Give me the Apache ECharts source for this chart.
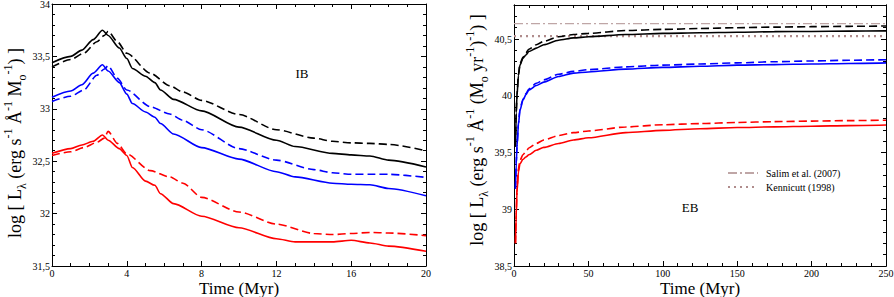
<!DOCTYPE html>
<html><head><meta charset="utf-8">
<script src="https://cdn.jsdelivr.net/npm/echarts@6/dist/echarts.min.js"></script>
<style>html,body{margin:0;padding:0;background:#fff}#c{width:894px;height:297px}</style>
</head><body><div id="c"></div>
<script>
// ---------- Left panel (IB) data ----------
const ibSolidTime  = [0, 1, 1.6, 2.2, 2.7, 3.0, 3.6, 4.0, 4.3, 5.0, 5.5, 5.8, 6.5, 8, 10, 12, 13, 15, 16, 17, 18, 20];
const ibDashedTime = [0, 1, 1.7, 2.4, 2.8, 3.0, 3.5, 4.0, 5.25, 6.3, 7, 8, 10, 12, 14, 15, 16, 17, 18, 20];
const ibBlackSolid = [33.44, 33.50, 33.56, 33.66, 33.75, 33.70, 33.58, 33.48, 33.385, 33.31, 33.25, 33.18, 33.09, 32.98, 32.825, 32.70, 32.64, 32.575, 32.56, 32.55, 32.51, 32.445];
const ibBlackDashed = [33.40, 33.47, 33.53, 33.64, 33.70, 33.74, 33.64, 33.53, 33.34, 33.22, 33.16, 33.08, 32.945, 32.80, 32.72, 32.69, 32.675, 32.67, 32.66, 32.60];
const ibBlueSolid = [33.11, 33.17, 33.23, 33.34, 33.42, 33.36, 33.25, 33.14, 33.05, 32.97, 32.92, 32.86, 32.76, 32.63, 32.52, 32.40, 32.35, 32.29, 32.28, 32.275, 32.24, 32.17];
const ibBlueDashed = [33.07, 33.12, 33.18, 33.32, 33.38, 33.41, 33.29, 33.18, 33.02, 32.95, 32.89, 32.80, 32.62, 32.51, 32.42, 32.39, 32.375, 32.375, 32.375, 32.345];
const ibRedSolid = [32.575, 32.62, 32.655, 32.69, 32.75, 32.70, 32.62, 32.555, 32.44, 32.31, 32.27, 32.19, 32.095, 31.975, 31.865, 31.76, 31.73, 31.73, 31.745, 31.72, 31.69, 31.64];
const ibRedDashed = [32.555, 32.59, 32.63, 32.68, 32.72, 32.785, 32.67, 32.57, 32.41, 32.35, 32.29, 32.155, 32.015, 31.90, 31.81, 31.80, 31.81, 31.82, 31.815, 31.79];

// ---------- Right panel (EB) data ----------
const ebTime = [1, 1.5, 2, 3, 4, 6, 8, 10, 15, 20, 30, 40, 50, 75, 100, 125, 150, 175, 200, 225, 250];
const ebBlackSolid = [39.55, 39.85, 40.0, 40.18, 40.27, 40.33, 40.36, 40.39, 40.42, 40.45, 40.49, 40.51, 40.52, 40.54, 40.55, 40.555, 40.56, 40.565, 40.567, 40.57, 40.572];
const ebBlackDashed = [39.55, 39.86, 40.01, 40.19, 40.28, 40.34, 40.38, 40.41, 40.45, 40.48, 40.52, 40.54, 40.55, 40.575, 40.585, 40.593, 40.6, 40.605, 40.609, 40.612, 40.615];
const ebBlueSolid = [39.18, 39.4, 39.55, 39.75, 39.87, 39.96, 40.01, 40.05, 40.09, 40.12, 40.17, 40.2, 40.21, 40.235, 40.25, 40.26, 40.27, 40.275, 40.28, 40.285, 40.29];
const ebBlueDashed = [39.18, 39.41, 39.56, 39.76, 39.88, 39.97, 40.02, 40.06, 40.11, 40.14, 40.19, 40.215, 40.23, 40.255, 40.27, 40.28, 40.29, 40.3, 40.307, 40.313, 40.318];
const ebRedSolid = [38.7, 38.95, 39.15, 39.33, 39.4, 39.44, 39.46, 39.48, 39.52, 39.545, 39.58, 39.61, 39.63, 39.675, 39.695, 39.71, 39.72, 39.726, 39.732, 39.737, 39.742];
const ebRedDashed = [38.7, 38.97, 39.18, 39.36, 39.43, 39.48, 39.51, 39.54, 39.58, 39.61, 39.65, 39.675, 39.69, 39.725, 39.745, 39.755, 39.765, 39.772, 39.777, 39.781, 39.785];
const refRange = [0, 250];
const salimLevel = 40.636;
const kennicuttLevel = 40.526;
const refNames = ['Salim et al. (2007)', 'Kennicutt (1998)'];

// ---------- axis ranges ----------
const ibX = {min: 0, max: 20, interval: 4, minor: 4};
const ibY = {min: 31.5, max: 34, interval: 0.5, minor: 5};
const ebX = {min: 0, max: 250, interval: 50, minor: 5};
const ebY = {min: 38.5, max: 40.8, interval: 0.5, minorStep: 0.1};

const zip = (xs, ys) => xs.map((x, i) => [x, ys[i]]);
const SERIF = "'Liberation Serif', 'Times New Roman', serif";
const fmt = v => (Math.abs(v * 2 - Math.round(v * 2)) < 1e-6) ? String(+v.toFixed(1)).replace('.', ',') : '';

function axisBase(gridIndex, r, position, showLabel, tickLen, opts) {
  return {
    type: 'value', gridIndex, position, min: r.min, max: r.max,
    interval: opts.interval, splitLine: {show: false},
    axisLine: {show: true, onZero: false, lineStyle: {color: '#000', width: 1}},
    axisTick: {show: true, inside: true, length: tickLen, lineStyle: {color: '#000', width: 1}},
    axisLabel: {show: showLabel, color: '#000', fontFamily: SERIF, fontSize: 10, margin: 2, formatter: opts.formatter || (v => String(v))},
    minorTick: {show: !!opts.minor, splitNumber: opts.minor || 5, length: 3, lineStyle: {color: '#000', width: 1}},
    minorSplitLine: {show: false}
  };
}

const xAxes = [
  axisBase(0, ibX, 'bottom', true, 5, {interval: ibX.interval, minor: ibX.minor}),
  axisBase(0, ibX, 'top', false, 5, {interval: ibX.interval, minor: ibX.minor}),
  axisBase(1, ebX, 'bottom', true, 5, {interval: ebX.interval, minor: ebX.minor}),
  axisBase(1, ebX, 'top', false, 5, {interval: ebX.interval, minor: ebX.minor})
];
const yAxes = [
  axisBase(0, ibY, 'left', true, 5, {interval: ibY.interval, minor: ibY.minor, formatter: fmt}),
  axisBase(0, ibY, 'right', false, 5, {interval: ibY.interval, minor: ibY.minor}),
  axisBase(1, ebY, 'left', true, 5, {interval: ebY.interval, formatter: fmt}),
  axisBase(1, ebY, 'right', false, 5, {interval: ebY.interval}),
  axisBase(1, ebY, 'left', false, 3, {interval: ebY.minorStep}),
  axisBase(1, ebY, 'right', false, 3, {interval: ebY.minorStep})
];

function line(name, data, color, dashed, xi, yi) {
  return {
    name, type: 'line', data, xAxisIndex: xi, yAxisIndex: yi,
    showSymbol: false, symbol: 'none', smooth: 0.25, smoothMonotone: 'x',
    lineStyle: {color, width: 1.6, type: dashed ? [8, 4] : 'solid'},
    itemStyle: {color}, silent: true, z: 3
  };
}

const series = [
  line('ibBlackSolid', zip(ibSolidTime, ibBlackSolid), '#000000', false, 0, 0),
  line('ibBlackDashed', zip(ibDashedTime, ibBlackDashed), '#000000', true, 0, 0),
  line('ibBlueSolid', zip(ibSolidTime, ibBlueSolid), '#0000ff', false, 0, 0),
  line('ibBlueDashed', zip(ibDashedTime, ibBlueDashed), '#0000ff', true, 0, 0),
  line('ibRedSolid', zip(ibSolidTime, ibRedSolid), '#ff0000', false, 0, 0),
  line('ibRedDashed', zip(ibDashedTime, ibRedDashed), '#ff0000', true, 0, 0),
  line('ebBlackSolid', zip(ebTime, ebBlackSolid), '#000000', false, 2, 2),
  line('ebBlackDashed', zip(ebTime, ebBlackDashed), '#000000', true, 2, 2),
  line('ebBlueSolid', zip(ebTime, ebBlueSolid), '#0000ff', false, 2, 2),
  line('ebBlueDashed', zip(ebTime, ebBlueDashed), '#0000ff', true, 2, 2),
  line('ebRedSolid', zip(ebTime, ebRedSolid), '#ff0000', false, 2, 2),
  line('ebRedDashed', zip(ebTime, ebRedDashed), '#ff0000', true, 2, 2),
  {
    name: refNames[0], type: 'line', xAxisIndex: 2, yAxisIndex: 2, symbol: 'none', silent: true,
    data: refRange.map(t => [t, salimLevel]),
    lineStyle: {color: '#bfa6a6', width: 1.3, type: [9, 3, 2, 3]}, itemStyle: {color: '#bfa6a6'}, z: 2
  },
  {
    name: refNames[1], type: 'line', xAxisIndex: 2, yAxisIndex: 2, symbol: 'none', silent: true,
    data: refRange.map(t => [t, kennicuttLevel]),
    lineStyle: {color: '#b08c8c', width: 2.2, type: [2, 4]}, itemStyle: {color: '#b08c8c'}, z: 2
  }
];

const rich = {
  sup: {fontSize: 12, fontFamily: SERIF, fill: '#000', verticalAlign: 'top', lineHeight: 12},
  sub: {fontSize: 12, fontFamily: SERIF, fill: '#000', verticalAlign: 'bottom', lineHeight: 12}
};
function label(x, y, text, size, rot, lh) {
  return {
    type: 'text', x, y, rotation: rot || 0, silent: true, z: 10,
    style: {text, fontSize: size, fontFamily: SERIF, fill: '#000', align: 'center', verticalAlign: 'middle', lineHeight: lh || size, rich}
  };
}

const chart = echarts.init(document.getElementById('c'), null, {renderer: 'svg'});
chart.setOption({
  animation: false,
  backgroundColor: '#fff',
  grid: [
    {left: 52, top: 4, width: 374, height: 262, containLabel: false, outerBoundsMode: 'none'},
    {left: 514, top: 5, width: 372, height: 261, containLabel: false, outerBoundsMode: 'none'}
  ],
  xAxis: xAxes,
  yAxis: yAxes,
  legend: {
    data: refNames, orient: 'vertical', left: 722, top: 163, itemWidth: 30, itemHeight: 10, itemGap: 4,
    selectedMode: false, itemStyle: {opacity: 0, color: 'rgba(0,0,0,0)', borderWidth: 0},
    textStyle: {fontFamily: SERIF, fontSize: 10, color: '#000', padding: [0, 0, 0, 3]}
  },
  series,
  graphic: [
    label(15, 143, 'log [ L{sub|λ} (erg s{sup|-1} Å{sup|-1} M{sub|o}{sup|-1}) ]', 18, Math.PI / 2, 26),
    label(477, 130, 'log [ L{sub|λ} (erg s{sup|-1} Å{sup|-1} (M{sub|o} yr{sup|-1}){sup|-1}) ]', 18, Math.PI / 2, 26),
    label(239, 288, 'Time (Myr)', 17),
    label(700, 288, 'Time (Myr)', 17),
    label(302, 73, 'IB', 13),
    label(690, 207, 'EB', 13)
  ]
});
</script></body></html>
